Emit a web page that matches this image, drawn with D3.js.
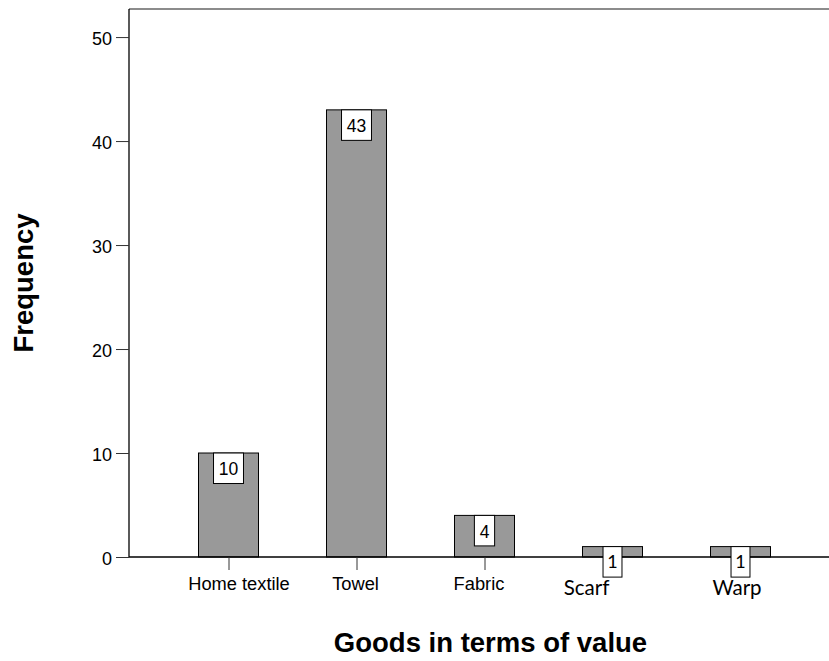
<!DOCTYPE html>
<html>
<head>
<meta charset="utf-8">
<script src="https://cdn.jsdelivr.net/npm/d3@7"></script>
<style>
  html, body { margin: 0; padding: 0; background: #fff; }
  svg { display: block; }
</style>
</head>
<body>
<svg id="chart" width="829" height="661"></svg>
<script>
// Frequency of goods, by value category
const categories = ["Home textile", "Towel", "Fabric", "Scarf", "Warp"];
const frequencies = [10, 43, 4, 1, 1];
const yTicks = [0, 10, 20, 30, 40, 50];
const xTitle = "Goods in terms of value";
const yTitle = "Frequency";

const plot = { left: 129, right: 829, top: 9, bottom: 557 };
const ARIAL = "'Liberation Sans', Arial, sans-serif";
const CALIBRI = "Lato, 'Open Sans', sans-serif";

// Two labels are set in a different face and sit off their tick
const labelStyle = {
  "Home textile": { dx: 10.5, font: ARIAL, size: 18.3 },
  "Towel":        { dx: -1,   font: ARIAL, size: 18.3 },
  "Fabric":       { dx: -5.5, font: ARIAL, size: 18.3 },
  "Scarf":        { dx: -26,  font: CALIBRI, size: 20.5, y: 595 },
  "Warp":         { dx: -3.5, font: CALIBRI, size: 20.5, y: 595 }
};

const svg = d3.select("#chart");

const x = d3.scalePoint().domain(categories).range([164.5, 804.5]).padding(0.5);
const y = d3.scaleLinear().domain([0, 52.7]).range([plot.bottom, plot.top]);
const barW = 60;

// frame: top border
svg.append("line")
  .attr("x1", plot.left).attr("x2", plot.right).attr("y1", plot.top).attr("y2", plot.top)
  .attr("stroke", "#666").attr("stroke-width", 1.6);

// bars
svg.append("g").selectAll("rect")
  .data(categories)
  .join("rect")
  .attr("x", d => x(d) - barW / 2)
  .attr("y", (d, i) => y(frequencies[i]))
  .attr("width", barW)
  .attr("height", (d, i) => y(0) - y(frequencies[i]))
  .attr("fill", "#999999")
  .attr("stroke", "#000")
  .attr("stroke-width", 1);

// y axis
const yAxis = svg.append("g")
  .attr("transform", `translate(${plot.left},0)`)
  .call(d3.axisLeft(y).tickValues(yTicks).tickSize(13).tickPadding(4).tickFormat(d3.format("d")));
yAxis.select(".domain").attr("stroke", "#000").attr("stroke-width", 1.3)
  .attr("d", `M0,${plot.bottom}V${plot.top}`);
yAxis.selectAll(".tick line").attr("stroke", "#333");
yAxis.selectAll(".tick text")
  .attr("font-family", ARIAL).attr("font-size", 18).attr("fill", "#000")
  .attr("dy", "0.42em");

// x axis
const xAxis = svg.append("g")
  .attr("transform", `translate(0,${plot.bottom})`)
  .call(d3.axisBottom(x).tickSize(13).tickFormat(""));
xAxis.select(".domain").attr("stroke", "#000").attr("stroke-width", 1.3)
  .attr("d", `M${plot.left},0H${plot.right}`);
xAxis.selectAll(".tick line").attr("stroke", "#333");

// category labels
svg.append("g").selectAll("text")
  .data(categories)
  .join("text")
  .attr("x", d => x(d) + labelStyle[d].dx)
  .attr("y", d => labelStyle[d].y || 590)
  .attr("text-anchor", "middle")
  .attr("font-family", d => labelStyle[d].font)
  .attr("font-size", d => labelStyle[d].size)
  .attr("fill", "#000")
  .text(d => d);

// value boxes hanging from each bar top
const boxes = svg.append("g").selectAll("g")
  .data(categories)
  .join("g")
  .attr("transform", (d, i) => `translate(${x(d)},${y(frequencies[i])})`);

boxes.each(function(d, i) {
  const g = d3.select(this);
  const small = frequencies[i] === 1;
  const rect = g.append("rect").attr("fill", "#fff").attr("stroke", "#000").attr("stroke-width", 1);
  const t = g.append("text")
    .attr("text-anchor", "middle")
    .attr("y", small ? 21.6 : 22.3)
    .attr("font-family", small ? CALIBRI : ARIAL)
    .attr("font-size", small ? 18 : 17.5)
    .attr("fill", "#000")
    .text(frequencies[i]);
  const w = t.node().getComputedTextLength() + (small ? 8.5 : 10.5);
  rect.attr("x", -w / 2).attr("y", 0).attr("width", w).attr("height", 30.5);
});

// axis titles
svg.append("text")
  .attr("x", 490.5).attr("y", 652)
  .attr("text-anchor", "middle")
  .attr("font-family", ARIAL).attr("font-weight", "bold").attr("font-size", 27.5)
  .attr("fill", "#000")
  .text(xTitle);

svg.append("text")
  .attr("transform", "translate(33,283) rotate(-90)")
  .attr("text-anchor", "middle")
  .attr("font-family", ARIAL).attr("font-weight", "bold").attr("font-size", 27.5)
  .attr("fill", "#000")
  .text(yTitle);
</script>
</body>
</html>
